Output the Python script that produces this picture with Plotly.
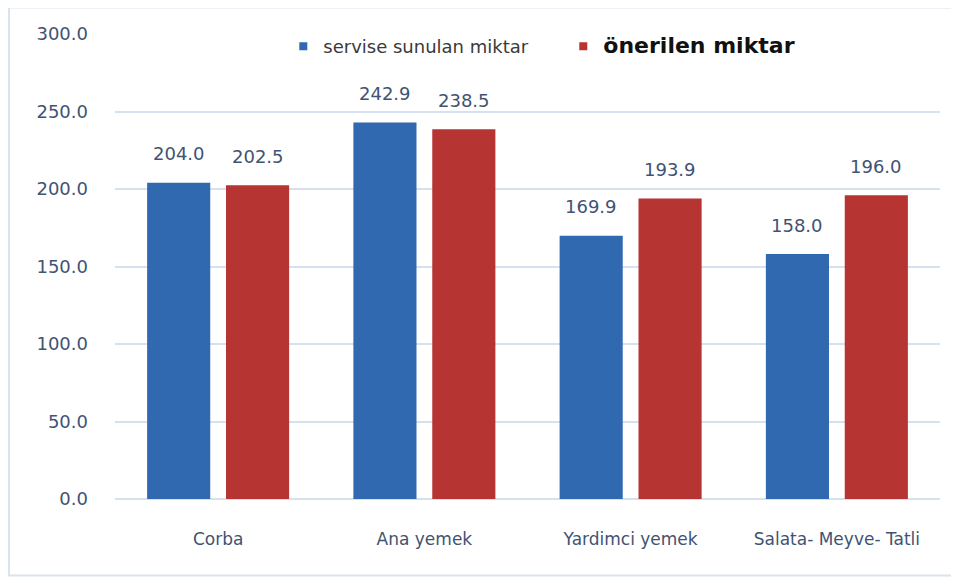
import plotly.graph_objects as go

# categories and values
categories = ["Corba", "Ana yemek", "Yardimci yemek", "Salata- Meyve- Tatli"]
servis = [204.0, 242.9, 169.9, 158.0]
onerilen = [202.5, 238.5, 193.9, 196.0]
y_ticks = [0, 50, 100, 150, 200, 250, 300]

label_color = "#3F5373"
grid_color = "#D6E1F0"
blue = "#3169B0"
red = "#B63431"

fig = go.Figure()
fig.add_trace(go.Bar(x=categories, y=servis, marker=dict(color=blue, line=dict(width=0)),
                     showlegend=False))
fig.add_trace(go.Bar(x=categories, y=onerilen, marker=dict(color=red, line=dict(width=0)),
                     showlegend=False))

# legend entries with small square symbols
fig.add_trace(go.Scatter(
    x=[None], y=[None], mode="markers",
    marker=dict(symbol="square", size=8, color=blue),
    name="<span style='font-size:18px;color:#3a3a3a'>servise sunulan miktar</span>",
))
fig.add_trace(go.Scatter(
    x=[None], y=[None], mode="markers",
    marker=dict(symbol="square", size=8, color=red),
    name="<b><span style='font-size:22px;color:#111'>önerilen miktar</span></b>",
))

# value labels above each bar
slot_px = 39.5
for vals, shift in ((servis, -slot_px), (onerilen, slot_px)):
    for c, v in zip(categories, vals):
        fig.add_annotation(x=c, y=v, text=f"{v:.1f}", showarrow=False,
                           xshift=shift, yshift=29, yanchor="middle",
                           font=dict(size=18, color=label_color))

# outer frame
fig.add_shape(type="rect", xref="paper", yref="paper",
              x0=-0.1285, x1=1.06, y0=-0.1645, y1=1.057,
              line=dict(color="#DAE3F0", width=2), layer="below")

fig.update_layout(
    width=943, height=569,
    margin=dict(l=107, r=11, t=26, b=78),
    paper_bgcolor="white", plot_bgcolor="white",
    font=dict(family="DejaVu Sans", color=label_color),
    barmode="group",
    bargap=0.235,
    bargroupgap=0.2,
    showlegend=True,
    legend=dict(
        orientation="h",
        x=0.204, xanchor="left",
        y=1.013, yanchor="top",
        bgcolor="white",
        entrywidth=235,
        font=dict(size=18),
    ),
    xaxis=dict(
        showgrid=False, showline=False, zeroline=False,
        tickfont=dict(size=17, color=label_color),
        ticks="", ticklabelstandoff=28,
    ),
    yaxis=dict(
        range=[0, 300], tickvals=y_ticks,
        tickformat=".1f",
        showgrid=True, gridcolor=grid_color, gridwidth=1.5,
        zeroline=True, zerolinecolor=grid_color, zerolinewidth=1.5,
        tickfont=dict(size=18, color=label_color),
        ticks="", ticklabelstandoff=26,
    ),
)

fig.write_html("out.html")
